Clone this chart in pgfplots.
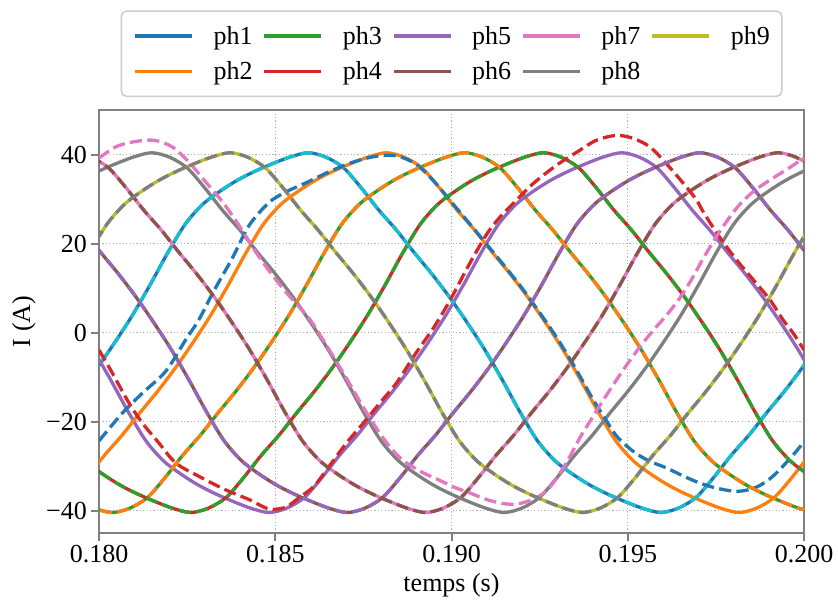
\documentclass[border=0pt]{standalone}
\usepackage{pgfplots}
\pgfplotsset{compat=1.18}
\usepackage{pgfplotstable}
\usepackage{fontspec}
\setmainfont{Liberation Serif}

\definecolor{tabblue}{HTML}{1F77B4}
\definecolor{taborange}{HTML}{FF7F0E}
\definecolor{tabgreen}{HTML}{2CA02C}
\definecolor{tabred}{HTML}{D62728}
\definecolor{tabpurple}{HTML}{9467BD}
\definecolor{tabbrown}{HTML}{8C564B}
\definecolor{tabpink}{HTML}{E377C2}
\definecolor{tabgray}{HTML}{7F7F7F}
\definecolor{tabolive}{HTML}{BCBD22}
\definecolor{tabcyan}{HTML}{17BECF}

% common waveform of a healthy phase (tau in ms relative to its peak)
\pgfplotstableread{
tau g
-20 40.4
-19.5 39.4
-19 37.0
-18.5 32.5
-18 27.5
-17.5 23.0
-17 18.0
-16.5 13.2
-16 8.0
-15.5 2.3
-15 -3.8
-14.5 -10.6
-14 -17.8
-13.5 -24.3
-13 -28.8
-12.5 -31.8
-12 -34.3
-11.5 -36.3
-11 -38.0
-10.5 -39.5
-10 -40.4
-9.5 -39.4
-9 -37.0
-8.5 -32.5
-8 -27.5
-7.5 -23.0
-7 -18.0
-6.5 -13.2
-6 -8.0
-5.5 -2.3
-5 3.8
-4.5 10.6
-4 17.8
-3.5 24.3
-3 28.8
-2.5 31.8
-2 34.3
-1.5 36.3
-1 38.0
-0.5 39.5
0 40.4
0.5 39.4
1 37.0
1.5 32.5
2 27.5
2.5 23.0
3 18.0
3.5 13.2
4 8.0
4.5 2.3
5 -3.8
5.5 -10.6
6 -17.8
6.5 -24.3
7 -28.8
7.5 -31.8
8 -34.3
8.5 -36.3
9 -38.0
9.5 -39.5
10 -40.4
10.5 -39.4
11 -37.0
11.5 -32.5
12 -27.5
12.5 -23.0
13 -18.0
13.5 -13.2
14 -8.0
14.5 -2.3
15 3.8
15.5 10.6
16 17.8
16.5 24.3
17 28.8
17.5 31.8
18 34.3
18.5 36.3
19 38.0
19.5 39.5
20 40.4
}\shape

% faulty ph2 (dashed blue)
\pgfplotstableread{
t v
180.00 -24.3
180.66 -18.1
181.23 -13.6
181.89 -8.7
182.46 -1.6
182.84 3.0
183.26 9.4
183.78 16.7
184.26 24.1
184.82 29.2
185.30 31.6
185.86 33.6
186.52 36.1
187.10 38.0
187.60 39.2
188.07 39.8
188.50 39.6
189.00 37.8
189.50 34.0
190.00 29.3
190.50 24.6
191.00 19.8
191.50 15.0
192.00 10.0
192.50 4.5
193.00 -1.3
193.50 -7.8
194.00 -14.8
194.30 -18.6
194.69 -23.3
195.16 -26.7
195.60 -28.8
196.10 -30.4
196.60 -32.3
197.05 -33.8
197.50 -34.9
197.99 -35.6
198.30 -35.5
198.65 -34.7
198.95 -33.3
199.22 -31.5
199.60 -28.3
199.89 -25.6
200.00 -24.3
}\phtwof

% faulty ph5 (dashed red)
\pgfplotstableread{
t v
180.00 -3.9
180.38 -9.1
180.85 -15.8
181.23 -20.3
181.70 -24.8
182.18 -29.3
182.84 -32.3
183.59 -35.3
184.26 -37.5
184.82 -39.6
185.30 -39.2
185.67 -37.1
186.10 -34.5
186.55 -29.8
187.00 -25.0
187.50 -20.3
188.00 -15.5
188.44 -11.3
189.00 -4.5
189.50 1.2
189.96 7.3
190.50 15.3
190.99 22.0
191.38 26.0
191.85 29.8
192.32 33.5
192.98 37.6
193.55 40.5
194.11 43.2
194.69 44.3
195.16 43.6
195.63 41.7
196.10 37.9
196.58 33.5
196.95 29.8
197.15 27.0
197.60 21.5
198.09 16.3
198.60 11.5
199.04 7.3
199.41 2.8
199.70 -0.2
200.00 -3.9
}\phfivef

% faulty ph8 (dashed pink)
\pgfplotstableread{
t v
180.00 39.2
180.47 41.7
180.94 42.8
181.56 43.2
182.08 41.7
182.55 38.3
183.02 33.9
183.50 29.4
183.97 24.1
184.44 18.2
184.92 12.9
185.39 8.3
185.96 3.2
186.30 -0.9
186.65 -5.4
187.00 -10.0
187.50 -16.8
188.00 -23.0
188.40 -27.0
188.73 -29.3
189.20 -31.5
189.67 -33.2
190.10 -34.8
190.52 -36.0
191.00 -37.5
191.47 -38.4
191.85 -38.5
192.23 -37.7
192.55 -36.4
192.80 -34.6
193.08 -31.5
193.36 -27.8
193.65 -23.5
194.00 -19.0
194.31 -15.1
194.80 -9.2
195.25 -4.2
195.70 0.3
196.10 3.9
196.48 7.8
196.80 11.8
197.15 16.8
197.60 22.6
198.09 28.0
198.55 31.6
199.04 34.3
199.50 36.6
200.00 39.2
}\pheightf

\begin{document}
\begin{tikzpicture}
\begin{axis}[
  name=ax,
  scale only axis,
  width=705pt, height=423pt,
  xmin=180, xmax=200, ymin=-45, ymax=50,
  xtick={180,185,190,195,200},
  xticklabels={0.180,0.185,0.190,0.195,0.200},
  ytick={-40,-20,0,20,40},
  yticklabels={−40,−20,0,20,40},
  tick pos=left,
  tick label style={font=\fontsize{26}{31}\selectfont},
  xticklabel style={anchor=north, inner sep=0pt, yshift=-4pt},
  yticklabel style={anchor=east, inner sep=0pt, xshift=-4pt},
  tick align=outside,
  major tick length=8pt,
  tick style={draw=gray, line width=2pt},
  axis line style={draw=gray, line width=2.2pt},
  grid=major,
  major grid style={draw=black!30, line width=1.2pt, dash pattern=on 1.2pt off 2.2pt},
  xlabel={temps (s)},
  ylabel={I (A)},
  label style={font=\fontsize{26}{31}\selectfont},
  xlabel style={at={(axis description cs:0.5,-0.1229)}, anchor=center},
  ylabel style={at={(axis description cs:-0.1064,0.5)}, anchor=center},
  every axis plot/.append style={line width=3.3pt, smooth},
  legend columns=5,
  legend image code/.code={\draw[#1, line width=3.3pt] (0pt,0pt) -- (57pt,0pt);},
  legend style={
    at={(axis description cs:0.5,1.0307)}, anchor=south,
    draw=black!20, line width=1.5pt, rounded corners=5pt, fill=white,
    font=\fontsize{26}{31}\selectfont,
    inner xsep=12pt, inner ysep=15pt,
    nodes={inner sep=0pt, anchor=west},
    row sep=16pt,
    /tikz/every odd column/.append style={column sep=20pt},
    /tikz/every even column/.append style={column sep=10pt},
  },
]
% healthy phases (solid)
\addplot[tabblue] table[x expr=\thisrow{tau}+185.94, y=g]{\shape};
\addlegendentry{ph1}
\addplot[tabgreen] table[x expr=\thisrow{tau}+190.38, y=g]{\shape};
\addlegendentry{ph3}
\addplot[tabpurple] table[x expr=\thisrow{tau}+194.83, y=g]{\shape};
\addlegendentry{ph5}
\addplot[tabpink] table[x expr=\thisrow{tau}+199.27, y=g]{\shape};
\addlegendentry{ph7}
\addplot[tabolive] table[x expr=\thisrow{tau}+183.72, y=g]{\shape};
\addlegendentry{ph9}
\addplot[taborange] table[x expr=\thisrow{tau}+188.16, y=g]{\shape};
\addlegendentry{ph2}
\addplot[tabred] table[x expr=\thisrow{tau}+192.61, y=g]{\shape};
\addlegendentry{ph4}
\addplot[tabbrown] table[x expr=\thisrow{tau}+197.05, y=g]{\shape};
\addlegendentry{ph6}
\addplot[tabgray] table[x expr=\thisrow{tau}+181.50, y=g]{\shape};
\addlegendentry{ph8}
% second case (dashed)
\addplot[forget plot, tabcyan, dash pattern=on 12.2pt off 5.3pt] table[x expr=\thisrow{tau}+185.94, y=g]{\shape};
\addplot[forget plot, tabblue, dash pattern=on 12.2pt off 5.3pt] table[x=t, y=v]{\phtwof};
\addplot[forget plot, taborange, dash pattern=on 12.2pt off 5.3pt] table[x expr=\thisrow{tau}+190.38, y=g]{\shape};
\addplot[forget plot, tabgreen, dash pattern=on 12.2pt off 5.3pt] table[x expr=\thisrow{tau}+192.61, y=g]{\shape};
\addplot[forget plot, tabred, dash pattern=on 12.2pt off 5.3pt] table[x=t, y=v]{\phfivef};
\addplot[forget plot, tabpurple, dash pattern=on 12.2pt off 5.3pt] table[x expr=\thisrow{tau}+197.05, y=g]{\shape};
\addplot[forget plot, tabbrown, dash pattern=on 12.2pt off 5.3pt] table[x expr=\thisrow{tau}+199.27, y=g]{\shape};
\addplot[forget plot, tabpink, dash pattern=on 12.2pt off 5.3pt] table[x=t, y=v]{\pheightf};
\addplot[forget plot, tabgray, dash pattern=on 12.2pt off 5.3pt] table[x expr=\thisrow{tau}+183.72, y=g]{\shape};
\end{axis}
\pgfresetboundingbox
\path[use as bounding box] ([xshift=-99pt,yshift=-68pt]ax.south west) rectangle ([xshift=739pt,yshift=533pt]ax.south west);
\end{tikzpicture}
\end{document}
